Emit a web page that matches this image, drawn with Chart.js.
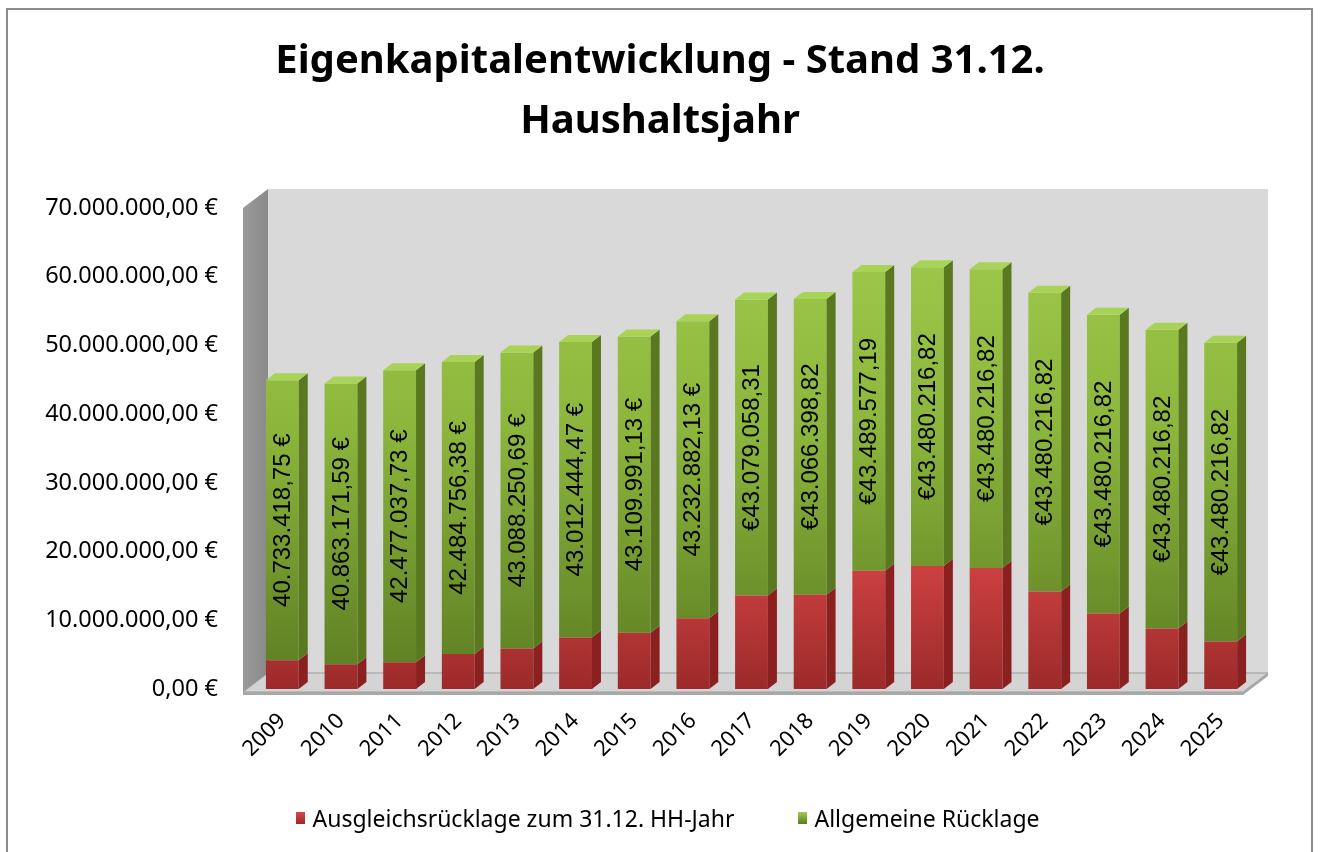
<!DOCTYPE html>
<html>
<head>
<meta charset="utf-8">
<script src="https://cdn.jsdelivr.net/npm/chart.js@4.4.1/dist/chart.umd.min.js"></script>
<style>
    html, body { margin: 0; padding: 0; background: #fff; }
    #frame { position: absolute; left: 6px; top: 8px; width: 1307px; height: 870px; border: 2px solid #8c8c8c; box-sizing: border-box; }
    #chart { position: absolute; left: 0; top: 0; }
    #legend { position: absolute; left: 0; top: 802px; width: 1336px; display: flex; justify-content: center; gap: 64px; font: 23px 'Noto Sans', sans-serif; color: #000; }
    #legend .item { display: flex; align-items: center; }
    #legend .box { width: 9px; height: 12px; margin-right: 7px; }
</style>
</head>
<body>
<div id="frame"></div>
<canvas id="chart" width="1320" height="852"></canvas>
<div id="legend"></div>
<script>
// values
const years = ['2009', '2010', '2011', '2012', '2013', '2014', '2015', '2016', '2017',
               '2018', '2019', '2020', '2021', '2022', '2023', '2024', '2025'];

const ausgleichsruecklage = [4200000, 3600000, 3900000, 5100000, 5900000, 7500000, 8200000, 10300000, 13600000,
                             13700000, 17200000, 17900000, 17600000, 14200000, 11000000, 8800000, 6900000];

const allgemeineRuecklage = [40733418.75, 40863171.59, 42477037.73, 42484756.38, 43088250.69, 43012444.47,
                             43109991.13, 43232882.13, 43079058.31, 43066398.82, 43489577.19, 43480216.82,
                             43480216.82, 43480216.82, 43480216.82, 43480216.82, 43480216.82];

const yTicks = [0, 10000000, 20000000, 30000000, 40000000, 50000000, 60000000, 70000000];

// from 2017 on the labels in the source put the euro sign in front
const euroFirstFrom = 2017;

const seriesNames = ['Ausgleichsrücklage zum 31.12. HH-Jahr', 'Allgemeine Rücklage'];

function formatDe(v) {
    const neg = v < 0;
    const parts = Math.abs(v).toFixed(2).split('.');
    const int = parts[0].replace(/\B(?=(\d{3})+(?!\d))/g, '.');
    return (neg ? '-' : '') + int + ',' + parts[1];
}

const DX = 9, DY = -7;      // bar depth
const WDX = 25, WDY = -19;  // wall depth

function vGrad(chart, stops) {
    const a = chart.chartArea;
    const g = chart.ctx.createLinearGradient(0, a.top, 0, a.bottom);
    stops.forEach(s => g.addColorStop(s[0], s[1]));
    return g;
}

const redStops = [[0, '#e65050'], [0.7, '#d54444'], [1, '#9c2a2a']];
const greenStops = [[0, '#a2cc4e'], [0.45, '#8cb73c'], [1, '#5c7c22']];

const wallsPlugin = {
    id: 'walls',
    beforeDatasetsDraw(chart) {
        const { ctx, chartArea: a } = chart;
        const fl = a.left - 10, fr = a.right - 7, ft = a.top, fb = a.bottom + 3;
        ctx.save();
        // back wall
        ctx.fillStyle = '#d9d9d9';
        ctx.fillRect(fl + WDX, ft + WDY, fr - fl, fb - ft);
        // left wall
        const lg = ctx.createLinearGradient(fl, 0, fl + WDX, 0);
        lg.addColorStop(0, '#9a9a9a');
        lg.addColorStop(1, '#8a8a8a');
        ctx.fillStyle = lg;
        ctx.beginPath();
        ctx.moveTo(fl, ft);
        ctx.lineTo(fl + WDX, ft + WDY);
        ctx.lineTo(fl + WDX, fb + WDY);
        ctx.lineTo(fl, fb);
        ctx.closePath();
        ctx.fill();
        // floor
        ctx.fillStyle = '#d4d4d4';
        ctx.strokeStyle = '#9a9a9a';
        ctx.lineWidth = 1;
        ctx.beginPath();
        ctx.moveTo(fl, fb);
        ctx.lineTo(fl + WDX, fb + WDY);
        ctx.lineTo(fr + WDX, fb + WDY);
        ctx.lineTo(fr, fb);
        ctx.closePath();
        ctx.fill();
        ctx.stroke();
        // floor thickness
        ctx.fillStyle = '#a8a8a8';
        ctx.beginPath();
        ctx.moveTo(fl, fb);
        ctx.lineTo(fr, fb);
        ctx.lineTo(fr + WDX, fb + WDY);
        ctx.lineTo(fr + WDX, fb + WDY + 3);
        ctx.lineTo(fr, fb + 3);
        ctx.lineTo(fl, fb + 3);
        ctx.closePath();
        ctx.fill();
        ctx.restore();
    }
};

const barDepthPlugin = {
    id: 'barDepth',
    afterDatasetsDraw(chart) {
        const ctx = chart.ctx;
        const last = chart.data.datasets.length - 1;
        const sides = ['#8a2020', '#5a7820'];
        const tops = ['#e05a5a', '#a9d356'];
        ctx.save();
        chart.data.datasets.forEach((ds, di) => {
            chart.getDatasetMeta(di).data.forEach(el => {
                const l = el.x - el.width / 2, r = el.x + el.width / 2;
                const t = Math.min(el.y, el.base), b = Math.max(el.y, el.base);
                ctx.fillStyle = sides[di];
                ctx.beginPath();
                ctx.moveTo(r, t);
                ctx.lineTo(r + DX, t + DY);
                ctx.lineTo(r + DX, b + DY);
                ctx.lineTo(r, b);
                ctx.closePath();
                ctx.fill();
                if (di === last) {
                    ctx.fillStyle = tops[di];
                    ctx.beginPath();
                    ctx.moveTo(l, t);
                    ctx.lineTo(l + DX, t + DY);
                    ctx.lineTo(r + DX, t + DY);
                    ctx.lineTo(r, t);
                    ctx.closePath();
                    ctx.fill();
                }
            });
        });
        // value labels of the green series
        const meta = chart.getDatasetMeta(last);
        ctx.font = '24px "Liberation Sans", Arial, sans-serif';
        ctx.fillStyle = '#000';
        ctx.textAlign = 'center';
        ctx.textBaseline = 'middle';
        meta.data.forEach((el, i) => {
            const v = chart.data.datasets[last].data[i];
            const txt = Number(years[i]) >= euroFirstFrom ? '€' + formatDe(v) : formatDe(v) + ' €';
            ctx.save();
            ctx.translate(el.x, (el.y + el.base) / 2);
            ctx.rotate(-Math.PI / 2);
            ctx.fillText(txt, 0, 1);
            ctx.restore();
        });
        ctx.restore();
    }
};

const chart = new Chart(document.getElementById('chart'), {
    type: 'bar',
    data: {
        labels: years,
        datasets: [{
            label: seriesNames[0],
            data: ausgleichsruecklage,
            backgroundColor: c => c.chart.chartArea ? vGrad(c.chart, redStops) : '#d54444',
            borderWidth: 0,
        }, {
            label: seriesNames[1],
            data: allgemeineRuecklage,
            backgroundColor: c => c.chart.chartArea ? vGrad(c.chart, greenStops) : '#8cb73c',
            borderWidth: 0,
        }]
    },
    options: {
        responsive: false,
        animation: false,
        events: [],
        datasets: { bar: { barPercentage: 0.56, categoryPercentage: 1 } },
        layout: { padding: 0 },
        plugins: {
            legend: { display: false },
            tooltip: { enabled: false },
            title: {
                display: true,
                text: ['Eigenkapitalentwicklung - Stand 31.12.', 'Haushaltsjahr'],
                color: '#000',
                font: { family: 'Noto Sans', size: 40, weight: 'bold', lineHeight: 1.5 },
                padding: { top: 32, bottom: 56 }
            }
        },
        scales: {
            x: {
                stacked: true,
                grid: { display: false, drawTicks: false },
                border: { display: false },
                ticks: { color: '#000', font: { family: 'Noto Sans', size: 22 }, minRotation: 45, maxRotation: 45, padding: 19 },
                afterFit: s => { s.height = 163; }
            },
            y: {
                stacked: true,
                min: 0,
                max: 70000000,
                afterBuildTicks: s => { s.ticks = yTicks.map(v => ({ value: v })); },
                grid: { display: false, drawTicks: false },
                border: { display: false },
                ticks: { color: '#000', font: { family: 'Noto Sans', size: 23.5 }, padding: 35, callback: v => formatDe(v) + ' €' },
                afterFit: s => { s.width = 253; }
            },
            // empty right-hand space for the 3D walls
            yRight: {
                position: 'right',
                display: true,
                grid: { display: false, drawTicks: false },
                border: { display: false },
                ticks: { display: false },
                afterFit: s => { s.width = 70; }
            }
        }
    },
    plugins: [wallsPlugin, barDepthPlugin]
});

// html legend
const legendEl = document.getElementById('legend');
const legendFill = [['#d84848', '#9c2a2a'], ['#a2cc4e', '#5c7c22']];
chart.data.datasets.forEach((ds, i) => {
    const item = document.createElement('div');
    item.className = 'item';
    const box = document.createElement('span');
    box.className = 'box';
    box.style.background = 'linear-gradient(' + legendFill[i][0] + ',' + legendFill[i][1] + ')';
    item.appendChild(box);
    item.appendChild(document.createTextNode(ds.label));
    legendEl.appendChild(item);
});
</script>
</body>
</html>
